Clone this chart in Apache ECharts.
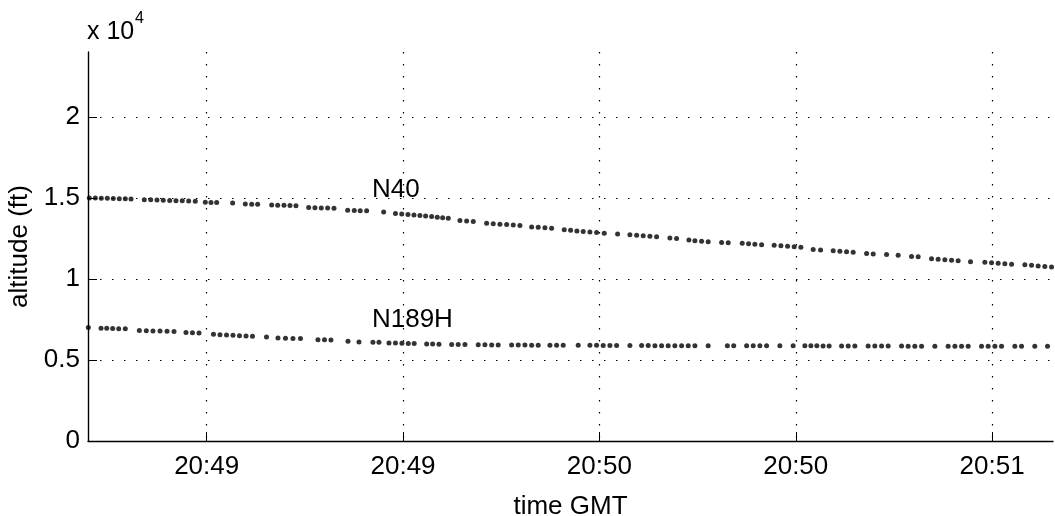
<!DOCTYPE html>
<html><head><meta charset="utf-8">
<script src="https://cdn.jsdelivr.net/npm/echarts@6/dist/echarts.min.js"></script>
<style>html,body{margin:0;padding:0;background:#fff}#c{width:1055px;height:516px}</style>
</head><body><div id="c"></div>
<script>
// x values: seconds after 20:48:00 GMT
const xTickValues = [60, 90, 120, 150, 180];
const xTickLabels = ['20:49', '20:49', '20:50', '20:50', '20:51'];
const yTickValues = [0, 5000, 10000, 15000, 20000];
const yTickLabels = ['0', '0.5', '1', '1.5', '2'];
const seriesNames = ['N40', 'N189H'];

const n40Time = [42.07,42.99,43.90,44.82,45.73,46.65,47.57,48.44,
  50.47,51.45,52.41,53.37,54.35,55.31,56.27,57.25,58.26,
  59.79,60.66,61.53, 63.97, 65.90,66.88,67.79,
  69.93,70.85,71.81,72.73,73.64, 75.58,76.54,77.51,78.48,79.45,
  81.54,82.55,83.46,84.44, 87.04,
  88.84,89.80,90.75,91.67,92.58,93.45,94.37,95.23,96.05,96.91,
  98.69,99.72,100.73, 102.77,103.78,104.80,105.83,106.84,107.86,
  109.65,110.65,111.68,112.70, 114.63,115.60,116.56,117.53,118.55,119.57,120.74,
  122.78, 124.66,125.69,126.69,127.72,128.74, 130.77,131.79,
  133.67,134.59,135.61,136.62, 138.67,139.68,
  141.82,142.79,143.75,144.78, 146.70,147.73,148.75,149.76,150.78,
  152.66,153.79, 155.72,156.74,157.76,158.77, 160.82,161.83, 163.87, 165.64,
  167.69,168.70, 170.74,171.75,172.78,173.80,174.81, 176.70,
  178.89,179.91,180.92,181.94,182.97, 185.00,186.02,187.03,188.05,189.08];
const n40Alt = [15000,14990,14980,14970,14960,14950,14940,14930,
  14890,14880,14870,14850,14840,14830,14820,14800,14790,
  14730,14720,14710, 14680, 14620,14610,14600,
  14560,14550,14540,14530,14520, 14400,14390,14380,14370,14360,
  14230,14220,14210,14200, 14130,
  14040,14010,13980,13940,13910,13880,13850,13810,13780,13750,
  13610,13580,13550, 13440,13410,13380,13350,13320,13290,
  13210,13180,13150,13120, 13030,13000,12960,12930,12890,12860,12820,
  12770, 12720,12690,12660,12630,12600, 12520,12490,
  12400,12360,12330,12290, 12250,12230,
  12200,12170,12140,12110, 12070,12040,12010,11980,11950,
  11810,11780, 11740,11710,11680,11650, 11570,11540, 11500, 11460,
  11390,11360, 11250,11220,11190,11150,11120, 11060,
  11030,11000,10970,10940,10910, 10870,10840,10800,10770,10730];

const n189hTime = [41.92, 43.86,44.73,45.64,46.56,47.57,
  49.71,50.78,51.80,52.87,53.94,55.01, 56.84,57.83,58.83,
  61.04,62.03,63.03,64.02,65.01,66.01,67.00, 69.14,
  70.89,72.04,73.18,74.33, 77.00,78.00,78.99, 81.59, 83.27, 85.40,86.32,
  87.85,88.84,89.83,90.80,91.71, 93.61,94.52,95.49, 97.43,98.43,99.46,
  101.49,102.51,103.54,104.54, 106.59,107.60,108.62,109.65,110.65,
  112.44,113.46,114.47, 116.76, 118.55,119.57,120.58,121.61,122.63, 124.66,
  126.45,127.46,128.48,129.50,130.51,131.53,132.56,133.57,134.59, 136.62,
  139.55,140.52, 142.49,143.50,144.52,145.54, 147.57, 149.60,
  151.39,152.31,153.22,154.17,155.10, 157.00,158.01,159.03,
  161.06,162.08,163.11,164.12, 166.16,167.17,168.19,169.22, 171.25,
  173.28,174.31,175.33,176.34, 178.38,179.39,180.42,181.44,
  183.47,184.49, 186.52, 188.46];
const n189hAlt = [7010, 6960,6950,6940,6930,6920,
  6810,6800,6790,6780,6770,6760, 6690,6680,6670,
  6580,6560,6540,6520,6500,6480,6460, 6420,
  6350,6340,6330,6320, 6250,6240,6230, 6150, 6110, 6100,6090,
  6050,6040,6030,6020,6010, 5990,5980,5970, 5960,5950,5950,
  5940,5940,5930,5930, 5920,5920,5920,5910,5910,
  5910,5900,5900, 5900, 5900,5900,5890,5890,5890, 5890,
  5890,5890,5880,5880,5880,5880,5880,5880,5880, 5880,
  5880,5880, 5880,5870,5870,5870, 5870, 5870,
  5870,5870,5870,5860,5860, 5860,5860,5860,
  5860,5860,5860,5860, 5860,5850,5850,5850, 5850,
  5850,5850,5850,5850, 5850,5850,5850,5840,
  5840,5840, 5840, 5840];

const zip = (a, b) => a.map((v, i) => [v, b[i]]);
const FONT = 'Liberation Sans, Arial, Helvetica, sans-serif';
const gridLine = {show: true, lineStyle: {type: [1.5, 10.5], color: '#000', width: 1.2}};

const chart = echarts.init(document.getElementById('c'), null, {renderer: 'canvas'});
chart.setOption({
  animation: false,
  backgroundColor: '#fff',
  textStyle: {fontFamily: FONT},
  grid: {left: 88, right: 2, top: 52, bottom: 75, containLabel: false, outerBoundsMode: 'none'},
  xAxis: {
    type: 'value', min: 41.87, max: 189.3,
    name: 'time GMT', nameLocation: 'middle', nameGap: 53,
    nameTextStyle: {fontSize: 26, color: '#000', fontFamily: FONT},
    axisLine: {show: true, lineStyle: {color: '#000', width: 1.4}},
    axisTick: {show: true, inside: true, length: 9, customValues: xTickValues, lineStyle: {color: '#000', width: 1}},
    axisLabel: {customValues: xTickValues, margin: 13, fontSize: 26, color: '#000', fontFamily: FONT,
      formatter: v => xTickLabels[xTickValues.indexOf(v)] || ''},
    splitLine: gridLine
  },
  yAxis: {
    type: 'value', min: 0, max: 24000,
    name: 'altitude (ft)', nameLocation: 'middle', nameGap: 42, nameRotate: 90,
    nameTextStyle: {fontSize: 26, color: '#000', fontFamily: FONT},
    axisLine: {show: true, lineStyle: {color: '#000', width: 1.4}},
    axisTick: {show: true, inside: true, length: 9, customValues: yTickValues, lineStyle: {color: '#000', width: 1}},
    axisLabel: {customValues: yTickValues, margin: 8, fontSize: 26, color: '#000', fontFamily: FONT,
      formatter: v => yTickLabels[yTickValues.indexOf(v)] || ''},
    splitLine: gridLine
  },
  graphic: [
    {type: 'text', left: 87, top: 20, style: {text: 'x 10', fontSize: 25, fontFamily: FONT, fill: '#000'}},
    {type: 'text', left: 135, top: 11, style: {text: '4', fontSize: 16, fontFamily: FONT, fill: '#000'}}
  ],
  series: [
    {
      name: seriesNames[0], type: 'scatter', data: zip(n40Time, n40Alt),
      symbol: 'circle', symbolSize: 5, itemStyle: {color: '#000'},
      markPoint: {symbol: 'circle', symbolSize: 0, silent: true,
        label: {show: true, formatter: seriesNames[0], position: [0, 0], align: 'left', verticalAlign: 'middle',
          fontSize: 26, color: '#000', fontFamily: FONT},
        data: [{coord: [85.25, 15515]}]}
    },
    {
      name: seriesNames[1], type: 'scatter', data: zip(n189hTime, n189hAlt),
      symbol: 'circle', symbolSize: 5, itemStyle: {color: '#000'},
      markPoint: {symbol: 'circle', symbolSize: 0, silent: true,
        label: {show: true, formatter: seriesNames[1], position: [0, 0], align: 'left', verticalAlign: 'middle',
          fontSize: 26, color: '#000', fontFamily: FONT},
        data: [{coord: [85.25, 7465]}]}
    }
  ]
});
</script>
</body></html>
